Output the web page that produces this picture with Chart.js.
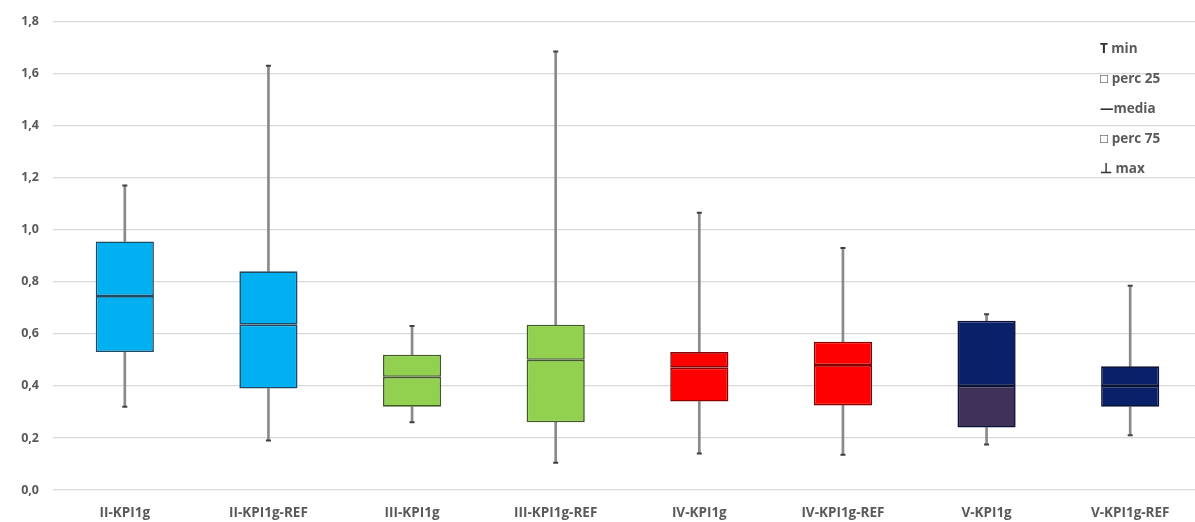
<!DOCTYPE html>
<html><head><meta charset="utf-8">
<script src="https://cdn.jsdelivr.net/npm/chart.js@4/dist/chart.umd.min.js"></script>
<style>
html,body{margin:0;padding:0;background:#fff;overflow:hidden;}
#wrap{position:relative;width:1208px;height:522px;}
#legend{position:absolute;left:1100px;top:33px;font-family:"Open Sans",sans-serif;font-weight:bold;font-size:13.5px;color:#595959;line-height:30px;}
#legend span{color:#333;}
</style></head>
<body>
<div id="wrap"><canvas id="c"></canvas>
<div id="legend">
<div><span>T</span> min</div><div><span>□</span> perc 25</div><div><span>—</span>media</div><div><span>□</span> perc 75</div><div><span>⊥</span> max</div>
</div></div>
<script>
const categories = ["II-KPI1g","II-KPI1g-REF","III-KPI1g","III-KPI1g-REF","IV-KPI1g","IV-KPI1g-REF","V-KPI1g","V-KPI1g-REF"];
const minVals = [0.32, 0.19, 0.26, 0.105, 0.14, 0.135, 0.175, 0.21];
const q1Vals  = [0.53, 0.39, 0.32, 0.26, 0.34, 0.325, 0.24, 0.32];
const medVals = [0.745, 0.635, 0.435, 0.50, 0.47, 0.48, 0.40, 0.40];
const q3Vals  = [0.955, 0.84, 0.52, 0.635, 0.53, 0.57, 0.65, 0.475];
const maxVals = [1.17, 1.63, 0.63, 1.685, 1.065, 0.93, 0.675, 0.785];
const yTicks = [0,0.2,0.4,0.6,0.8,1.0,1.2,1.4,1.6,1.8];

const fillUpper = ["#00b0f0","#00b0f0","#92d050","#92d050","#ff0000","#ff0000","#0a2068","#0a2068"];
const fillLower = ["#00b0f0","#00b0f0","#92d050","#92d050","#ff0000","#ff0000","#3f3157","#0a2068"];
const edge = ["#1c4a66","#1c4a66","#3f5a22","#3f5a22","#8a0000","#8a0000","#0a1236","#0a1236"];

const yFont = {family:'"Open Sans", sans-serif', size:12.5, weight:'bold'};
const xFont = {family:'"Open Sans", sans-serif', size:13.5, weight:'bold'};
const whisk = {backgroundColor:'#8a8a8a', barThickness:2, grouped:false, order:2};
new Chart(document.getElementById('c'), {
  type:'bar',
  data:{labels:categories, datasets:[
    {type:'line', data:minVals, showLine:false, pointStyle:'line', pointRadius:2.5, borderColor:'#404040', pointBorderWidth:2, order:0},
    {type:'line', data:maxVals, showLine:false, pointStyle:'line', pointRadius:2.5, borderColor:'#404040', pointBorderWidth:2, order:0},
    {data:categories.map((c,i)=>[medVals[i],q3Vals[i]]), backgroundColor:fillUpper, borderColor:edge, borderWidth:1.6, borderSkipped:false, grouped:false, barPercentage:0.405, categoryPercentage:1, order:1},
    {data:categories.map((c,i)=>[q1Vals[i],medVals[i]]), backgroundColor:fillLower, borderColor:edge, borderWidth:1.6, borderSkipped:false, grouped:false, barPercentage:0.405, categoryPercentage:1, order:1},
    Object.assign({data:categories.map((c,i)=>[minVals[i],q1Vals[i]])}, whisk),
    Object.assign({data:categories.map((c,i)=>[q3Vals[i],maxVals[i]])}, whisk)
  ]},
  options:{
    responsive:true, maintainAspectRatio:false, animation:false,
    layout:{padding:{top:19,left:6,right:0,bottom:0}},
    plugins:{legend:{display:false}, tooltip:{enabled:false}},
    scales:{
      x:{grid:{display:false}, border:{display:false}, ticks:{color:'#595959', font:xFont, padding:7, maxRotation:0},
         afterFit:s=>{s.height=32;}},
      y:{min:0,max:1.8, afterBuildTicks:s=>{s.ticks=yTicks.map(v=>({value:v}));},
         grid:{color:'#d9d9d9', lineWidth:1.3, drawTicks:false}, border:{display:false},
         ticks:{color:'#595959', font:yFont, padding:14, callback:v=>v.toFixed(1).replace('.',',')},
         afterFit:s=>{s.width=47;}}
    }
  }
});
</script>
</body></html>
